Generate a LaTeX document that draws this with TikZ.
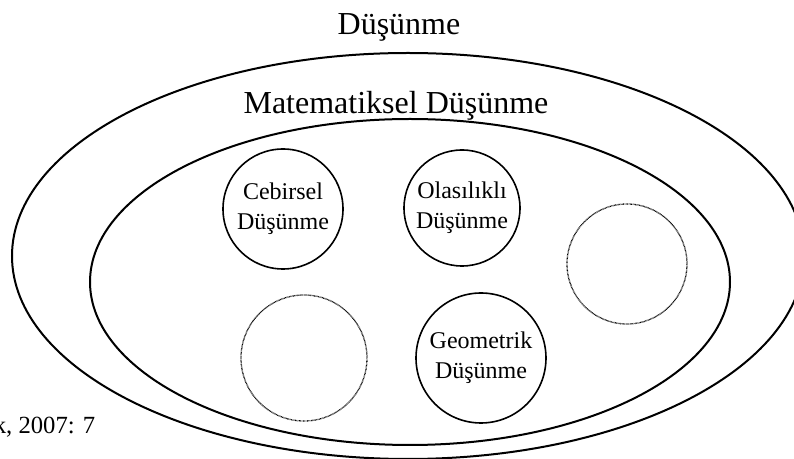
\documentclass[tikz,border=0pt]{standalone}
\usepackage{fontspec}
\setmainfont{Liberation Serif}
\usetikzlibrary{positioning}
\tikzset{
    % ellipse lines
    alan/.style={line width=1.5pt},
    % circles with text
    daire/.style={draw, shape=circle, line width=1.2pt, inner sep=0pt,
           align=center, font=\fontsize{18}{22.5}\selectfont},
    % empty dotted circles
    bos/.style={draw, shape=circle, dash pattern=on 0.5pt off 0.5pt, line width=1pt, inner sep=0pt},
    baslik/.style={font=\fontsize{24}{28}\selectfont}
}

\begin{document}
\begin{tikzpicture}[x=0.75pt,y=-0.75pt]
  \useasboundingbox (0,0) rectangle (794,459);
  \draw[alan] (408,256) ellipse [x radius=396, y radius=203];
  \draw[alan] (410,282) ellipse [x radius=320, y radius=163];
  \node (D) at (399,35) [baslik, anchor=base] {Düşünme};
  \node (M) at (396,114) [baslik, anchor=base] {Matematiksel Düşünme};
  \node (C) at (283,209) [daire, minimum size=90pt] {Cebirsel\\Düşünme};
  \node (O) at (462,208) [daire, minimum size=87pt] {Olasılıklı\\Düşünme};
  \node (G) at (481,358) [daire, minimum size=97.5pt] {Geometrik\\Düşünme};
  \node (B1) at (627,264) [bos, minimum size=90pt] {};
  \node (B2) at (304,358) [bos, minimum size=94.5pt] {};
  \node (K) at (100,434) [anchor=base east, font=\fontsize{18.5}{22}\selectfont] {k, 2007: 7};
\end{tikzpicture}
\end{document}
